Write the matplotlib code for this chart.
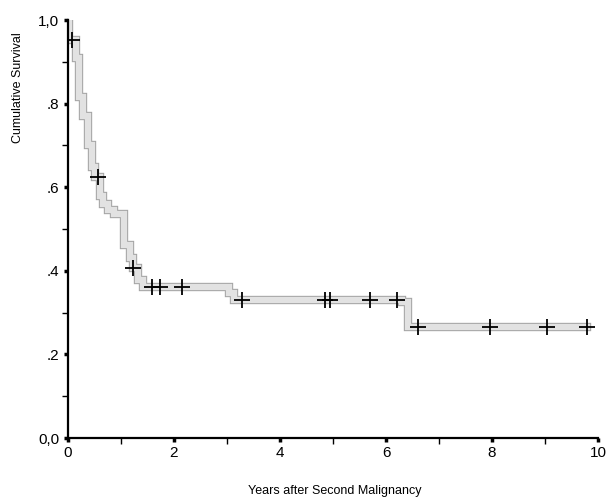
import matplotlib.pyplot as plt
import matplotlib.patheffects as pe
import numpy as np

plt.rcParams['font.family'] = ['Liberation Sans', 'DejaVu Sans']

# Kaplan-Meier steps (years, cumulative survival)
step_times = [0.0, 0.02, 0.15, 0.22, 0.28, 0.38, 0.45, 0.52, 0.60, 0.66, 0.75,
              0.87, 1.06, 1.17, 1.22, 1.33, 1.42, 3.04, 3.14, 6.30, 6.42, 9.79]
step_surv = [1.0, 0.952, 0.909, 0.816, 0.77, 0.70, 0.648, 0.624, 0.58, 0.56, 0.545,
             0.535, 0.462, 0.43, 0.407, 0.378, 0.362, 0.348, 0.33, 0.325, 0.265, 0.265]

# censored cases
cens_times = [0.07, 0.56, 1.23, 1.58, 1.74, 2.15, 3.28, 4.85, 4.94, 5.70, 6.20,
              6.60, 7.96, 9.03, 9.79]
cens_surv = [0.952, 0.624, 0.407, 0.362, 0.362, 0.362, 0.33, 0.33, 0.33, 0.33, 0.33,
             0.265, 0.265, 0.265, 0.265]

yticks = [0, 0.2, 0.4, 0.6, 0.8, 1.0]
ytick_labels = ['0,0', '.2', '.4', '.6', '.8', '1,0']
xticks = [0, 2, 4, 6, 8, 10]

fig = plt.figure(figsize=(6.11, 5.0), dpi=100)
ax = fig.add_axes([0.111, 0.124, 0.868, 0.836])

ax.step(step_times, step_surv, where='post', color='#e2e2e2', lw=4.5,
        solid_joinstyle='miter',
        path_effects=[pe.Stroke(linewidth=6, foreground='#a5a5a5'), pe.Normal()])
ax.plot(cens_times, cens_surv, '+', color='black', ms=12, mew=1.3, ls='none')

ax.set_xlim(0, 10)
ax.set_ylim(0, 1.0)
ax.set_yticks(yticks)
ax.set_yticklabels(ytick_labels)
ax.set_xticks(xticks)
ax.set_xticklabels([str(t) for t in xticks])
ax.set_xticks(np.arange(1, 10, 2), minor=True)
ax.set_yticks(np.arange(0.1, 1.0, 0.2), minor=True)

for s in ['top', 'right']:
    ax.spines[s].set_visible(False)
for s in ['left', 'bottom']:
    ax.spines[s].set_linewidth(1.6)
ax.tick_params(which='major', direction='out', length=3, width=2.5, labelsize=11, pad=3)
ax.tick_params(which='minor', direction='out', length=4, width=1)

fig.text(335 / 611, 1 - 491 / 500, 'Years after Second Malignancy',
         fontsize=9, ha='center', va='center')
fig.text(18 / 611, 1 - 88 / 500, 'Cumulative Survival', rotation=90,
         fontsize=9, ha='center', va='center')

fig.savefig('out.png', dpi=100)
